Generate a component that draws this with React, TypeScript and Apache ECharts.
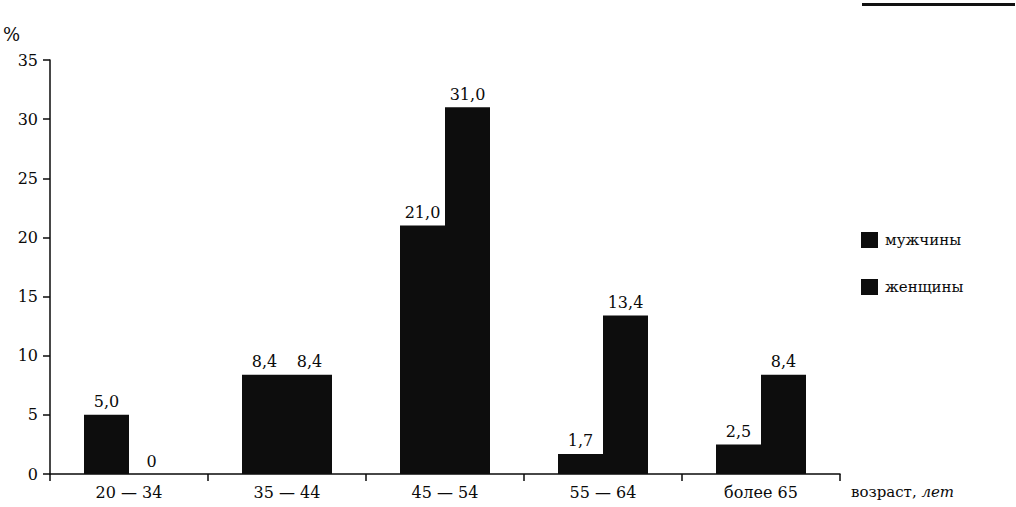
import React, { useEffect, useRef } from "react";
import * as echarts from "echarts";

const categories = ["20 — 34", "35 — 44", "45 — 54", "55 — 64", "более 65"];
const men = [5.0, 8.4, 21.0, 1.7, 2.5];
const women = [0, 8.4, 31.0, 13.4, 8.4];
const seriesNames = ["мужчины", "женщины"];
const yTicks = { min: 0, max: 35, interval: 5 };

const FONT = "'DejaVu Serif', 'Liberation Serif', serif";

const fmt = (v: number) => (v === 0 ? "0" : v.toFixed(1).replace(".", ","));

export default function App() {
  const ref = useRef<HTMLDivElement>(null);
  useEffect(() => {
    if (!ref.current) return;
    const chart = echarts.init(ref.current, undefined, { renderer: "svg" });
    const label = {
      show: true,
      position: "top" as const,
      distance: 5,
      color: "#0a0a0a",
      fontFamily: FONT,
      fontSize: 16,
      formatter: (p: any) => fmt(p.value),
    };
    chart.setOption({
      animation: false,
      backgroundColor: "#fff",
      grid: { left: 50, right: 176, top: 60, bottom: 33, containLabel: false },
      legend: {
        orient: "vertical",
        left: 856,
        top: 227,
        itemGap: 31,
        itemWidth: 17,
        itemHeight: 16,
        icon: "rect",
        textStyle: { fontFamily: FONT, fontSize: 15, color: "#0a0a0a", padding: [0, 0, 0, 2] },
        data: seriesNames,
      },
      xAxis: {
        type: "category",
        data: categories,
        axisLine: { lineStyle: { color: "#0a0a0a", width: 1.5 } },
        axisTick: { show: true, length: 7, lineStyle: { color: "#0a0a0a", width: 1.5 } },
        axisLabel: { color: "#0a0a0a", fontFamily: FONT, fontSize: 16, margin: 10 },
      },
      yAxis: {
        type: "value",
        min: yTicks.min,
        max: yTicks.max,
        interval: yTicks.interval,
        splitLine: { show: false },
        axisLine: { show: true, lineStyle: { color: "#0a0a0a", width: 1.5 } },
        axisTick: { show: true, length: 7, lineStyle: { color: "#0a0a0a", width: 1.5 } },
        axisLabel: { color: "#0a0a0a", fontFamily: FONT, fontSize: 16, margin: 12 },
      },
      series: [
        {
          name: seriesNames[0],
          type: "bar",
          data: men,
          barWidth: 45,
          barGap: "0%",
          itemStyle: { color: "#0d0d0d" },
          label,
        },
        {
          name: seriesNames[1],
          type: "bar",
          data: women,
          barWidth: 45,
          barGap: "0%",
          itemStyle: { color: "#0d0d0d" },
          label,
        },
      ],
      graphic: [
        {
          type: "text",
          left: 3,
          top: 25,
          style: { text: "%", fontFamily: FONT, fontSize: 18, fill: "#0a0a0a" },
        },
        {
          type: "text",
          left: 851,
          top: 484,
          style: {
            text: "{a|возраст, }{b|лет}",
            rich: {
              a: { fontFamily: FONT, fontSize: 15, fill: "#0a0a0a" },
              b: { fontFamily: FONT, fontSize: 15, fontStyle: "italic", fill: "#0a0a0a" },
            },
          },
        },
        {
          type: "rect",
          shape: { x: 862, y: 3, width: 153, height: 3 },
          style: { fill: "#111" },
        },
      ],
    });
    return () => chart.dispose();
  }, []);
  return (
    <div
      ref={ref}
      style={{ width: 1016, height: 507, position: "absolute", left: 0, top: 0 }}
    />
  );
}
